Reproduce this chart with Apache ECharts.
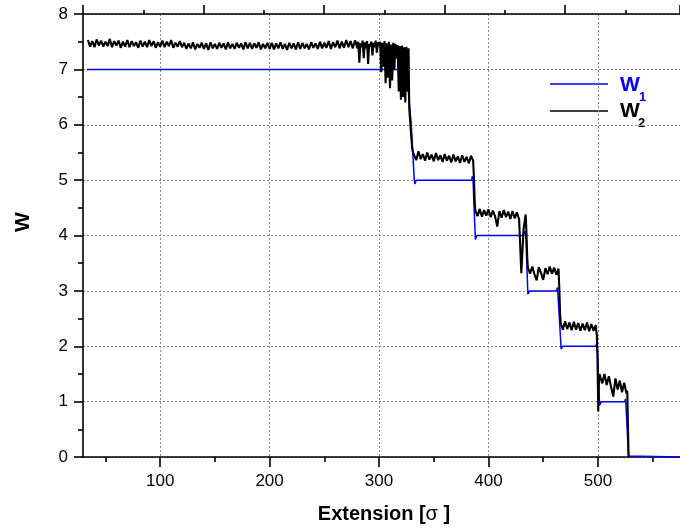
<!DOCTYPE html>
<html><head><meta charset="utf-8">
<script src="https://cdn.jsdelivr.net/npm/echarts@6/dist/echarts.min.js"></script>
<style>html,body{margin:0;padding:0;background:#fff}#c{width:680px;height:532px}</style>
</head><body><div id="c"></div>
<script>
const FONT = '"Liberation Sans", Arial, sans-serif';
// ---- axis ticks ----
const xTicks = [100, 200, 300, 400, 500];
const xMinorTicks = [50, 150, 250, 350, 450, 550];
// ---- W1 (blue) : [extension, W] ----
const w1Points = [
  [33,7],[325,7],[329.3,6.03],[332.2,5.0],[332.7,4.93],[334,5.0],
  [384.6,5.0],[385.3,5.07],[386,4.95],[388,3.93],[389.5,4.0],
  [431.2,4.0],[433.6,4.08],[434.3,3.9],[436,2.94],[437.5,3.0],
  [462,3.0],[463,3.06],[463.6,2.9],[466.4,1.95],[468,2.0],
  [498.2,2.0],[499,2.07],[499.6,1.9],[501.5,0.93],[503,1.0],
  [524.6,1.0],[525.2,1.05],[525.7,0.9],[528,0.02],[529,0],[575,0]
];
// ---- W2 (black, noisy) : sampled plateaus ----
const w2Plateau7 = [ // x = 34, 36, ... 278
  7.53,7.41,7.51,7.40,7.54,7.43,7.52,7.41,7.50,7.42,7.55,7.40,7.51,7.43,
  7.52,7.39,7.50,7.41,7.53,7.40,7.51,7.42,7.49,7.39,7.52,7.41,7.50,7.40,7.53,7.42,7.51,7.39,7.49,7.41,7.52,7.40,7.50,7.42,7.53,7.39,7.48,7.41,7.51,7.40,
  7.48,7.37,7.47,7.38,7.49,7.36,7.46,7.39,7.48,7.37,7.47,7.35,7.49,7.38,7.46,7.37,7.48,7.39,7.47,7.36,7.49,7.38,7.46,7.37,7.48,7.39,7.47,7.36,7.49,7.38,7.48,7.37,7.47,7.39,7.49,7.36,7.46,7.38,7.48,7.37,
  7.48,7.36,7.47,7.38,7.49,7.37,7.46,7.35,7.48,7.38,7.47,7.36,7.49,7.37,7.48,7.38,7.46,7.36,7.49,7.39,7.47,7.37,7.50,7.38,7.48,7.39,7.51,7.37,7.49,7.40,7.52,7.38,7.50,7.39,7.53,7.40,7.51,7.38,7.52
];
const w2Unstable = [ // x = 279, 280, ... 327
  7.48,7.38,7.50,7.12,7.47,7.40,7.52,7.20,7.49,7.38,7.51,7.10,7.46,7.41,7.50,7.25,7.48,7.40,7.52,7.30,7.49,
  7.42,7.50,6.95,7.48,7.05,7.51,6.75,7.47,6.85,7.50,6.66,7.45,6.80,7.48,7.00,7.46,7.20,
  7.44,6.60,7.42,6.45,7.43,6.50,7.40,6.40,7.41,6.60,7.38
];
const w2Drop7to5 = [[327.6,6.3],[328.3,6.1],[329,5.9],[329.6,5.75],[330.2,5.6],[331,5.5]];
const w2Plateau5 = [ // x = 332, 334, ... 386
  5.48,5.36,5.52,5.38,5.47,5.35,5.50,5.37,5.46,5.34,5.49,5.36,5.45,5.33,
  5.47,5.35,5.44,5.32,5.46,5.34,5.43,5.31,5.45,5.33,5.42,5.30,5.44,5.35
];
const w2Drop5to4 = [[386.8,5.0],[387.4,4.6]];
const w2Plateau4 = [ // x = 388, 390, ... 434
  4.45,4.35,4.48,4.34,4.46,4.36,4.47,4.33,4.45,4.35,4.16,4.44,
  4.32,4.46,4.33,4.43,4.30,4.44,4.31,4.42,4.29,3.32,4.10,4.38
];
const w2Drop4to3 = [[434.8,4.0],[435.4,3.6]];
const w2Plateau3 = [ // x = 436, 438, ... 464
  3.42,3.31,3.44,3.30,3.19,3.43,3.32,3.20,3.41,3.30,3.44,3.31,3.42,3.29,3.40
];
const w2Drop3to2 = [[464.8,3.0],[465.4,2.6]];
const w2Plateau2 = [ // x = 466, 468, ... 498
  2.42,2.30,2.45,2.31,2.43,2.29,2.44,2.30,2.42,2.28,2.41,2.29,2.43,2.27,2.40,2.28,2.38
];
const w2Drop2to1 = [[499,2.2],[499.6,1.8],[500.3,0.82],[500.8,1.3],[501.4,1.5]];
const w2Plateau1 = [ // x = 502, 504, ... 526
  1.52,1.33,1.50,1.30,1.46,1.27,1.09,1.42,1.22,1.38,1.17,1.34,1.15
];
const w2Drop1to0 = [[526.8,1.2],[527.5,0.5],[528,0]];

function sampled(x0, step, ys) { return ys.map((y, i) => [x0 + i * step, y]); }
const w2Data = [].concat(
  sampled(34, 2, w2Plateau7), sampled(279, 1, w2Unstable), w2Drop7to5,
  sampled(332, 2, w2Plateau5), w2Drop5to4,
  sampled(388, 2, w2Plateau4), w2Drop4to3,
  sampled(436, 2, w2Plateau3), w2Drop3to2,
  sampled(466, 2, w2Plateau2), w2Drop2to1,
  sampled(502, 2, w2Plateau1), w2Drop1to0
);

const chart = echarts.init(document.getElementById('c'), null, {renderer: 'canvas'});
const axisCol = '#000';
const lineW = 1.6;
const BLUE = '#0000ff';
const gridLine = {show: true, lineStyle: {color: '#8a8a8a', width: 1, type: [2, 2]}};
chart.setOption({
  animation: false,
  backgroundColor: '#fff',
  grid: {left: 83, top: 14, right: 0, bottom: 75, containLabel: false},
  xAxis: [
    {
      type: 'value', min: 29.5, max: 575, position: 'bottom',
      axisLine: {show: true, onZero: false, lineStyle: {color: axisCol, width: lineW}},
      axisTick: {show: true, customValues: xTicks, length: 10, lineStyle: {color: axisCol, width: lineW}},
      axisLabel: {show: true, customValues: xTicks, fontSize: 17, color: '#000', fontFamily: FONT, margin: 16},
      splitLine: gridLine
    },
    {
      type: 'value', min: 29.5, max: 575, position: 'bottom',
      axisLine: {show: false, onZero: false},
      axisTick: {show: true, customValues: xMinorTicks, length: 5, lineStyle: {color: axisCol, width: lineW}},
      axisLabel: {show: false}, splitLine: {show: false}
    },
    {
      type: 'value', min: 0, max: 597 / 120.5, interval: 1, position: 'top',
      axisLine: {show: true, onZero: false, lineStyle: {color: axisCol, width: lineW}},
      axisTick: {show: true, length: 9, lineStyle: {color: axisCol, width: lineW}},
      minorTick: {show: true, splitNumber: 2, length: 4, lineStyle: {color: axisCol, width: lineW}},
      axisLabel: {show: false}, splitLine: {show: false}
    }
  ],
  yAxis: {
    type: 'value', min: 0, max: 8, interval: 1,
    axisLine: {show: true, onZero: false, lineStyle: {color: axisCol, width: lineW}},
    axisTick: {show: true, length: 9, lineStyle: {color: axisCol, width: lineW}},
    minorTick: {show: true, splitNumber: 2, length: 5, lineStyle: {color: axisCol, width: lineW}},
    axisLabel: {fontSize: 17, color: '#000', fontFamily: FONT, margin: 15},
    splitLine: gridLine
  },
  series: [
    {name: 'W1', type: 'line', xAxisIndex: 0, data: w1Points, showSymbol: false, symbol: 'none',
     lineStyle: {color: BLUE, width: 1.5}, z: 2},
    {name: 'W2', type: 'line', xAxisIndex: 0, data: w2Data, showSymbol: false, symbol: 'none',
     lineStyle: {color: '#000', width: 2.1}, z: 3}
  ],
  graphic: [
    {type: 'line', shape: {x1: 550, y1: 84, x2: 608, y2: 84}, style: {stroke: BLUE, lineWidth: 1.5}},
    {type: 'line', shape: {x1: 550, y1: 111, x2: 608, y2: 111}, style: {stroke: '#000', lineWidth: 1.5}},
    {type: 'text', x: 620, y: 85, style: {text: 'W', fill: BLUE, font: 'bold 21px ' + FONT, verticalAlign: 'middle', align: 'left'}},
    {type: 'text', x: 639, y: 97, style: {text: '1', fill: BLUE, font: 'bold 13px ' + FONT, verticalAlign: 'middle', align: 'left'}},
    {type: 'text', x: 620, y: 111, style: {text: 'W', fill: '#000', font: 'bold 21px ' + FONT, verticalAlign: 'middle', align: 'left'}},
    {type: 'text', x: 638, y: 123, style: {text: '2', fill: '#000', font: 'bold 13px ' + FONT, verticalAlign: 'middle', align: 'left'}},
    {type: 'text', x: 384, y: 514, style: {
      text: '{b|Extension [}{s|σ}{b| ]}', align: 'center', verticalAlign: 'middle',
      rich: {b: {font: 'bold 20px ' + FONT, fill: '#000'}, s: {font: '20px ' + FONT, fill: '#000'}}
    }},
    {type: 'text', x: 23, y: 222, rotation: Math.PI / 2, style: {text: 'W', fill: '#000', font: 'bold 21px ' + FONT, align: 'center', verticalAlign: 'middle'}}
  ]
});
</script>
</body></html>
